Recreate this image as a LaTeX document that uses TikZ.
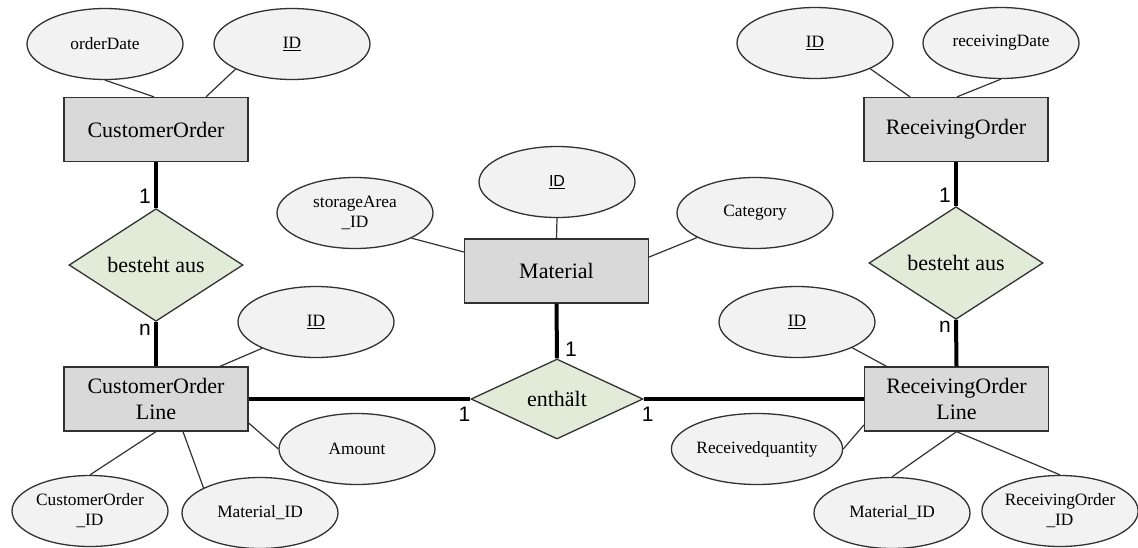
\documentclass[tikz,border=0pt]{standalone}
\usepackage{fontspec}
\setmainfont{Liberation Serif}
\setsansfont{Liberation Sans}
\usetikzlibrary{shapes.geometric,calc}
\definecolor{entfill}{RGB}{217,217,217}
\definecolor{attfill}{RGB}{242,242,242}
\definecolor{relfill}{RGB}{226,235,216}
\definecolor{linegray}{RGB}{50,50,50}

\tikzset{
  entity/.style={draw=linegray, line width=1.3pt, fill=entfill,
    minimum width=184pt, minimum height=64pt, inner sep=0pt,
    align=center, font=\fontsize{22}{26}\selectfont},
  attr/.style={ellipse, draw=linegray, line width=1.3pt, fill=attfill,
    minimum width=156pt, minimum height=71pt, inner sep=0pt,
    align=center, font=\fontsize{17.3}{20}\selectfont},
  rel/.style={diamond, draw=linegray, line width=1.3pt, fill=relfill,
    minimum width=174pt, minimum height=80pt, inner sep=0pt,
    font=\fontsize{22}{26}\selectfont},
  attrlink/.style={draw=linegray, line width=1.2pt},
  rellink/.style={draw=black, line width=4pt},
  card/.style={font=\sffamily\fontsize{21}{21}\selectfont, inner sep=0pt},
}

\begin{document}
\begin{tikzpicture}[x=1pt,y=-1pt]
\useasboundingbox (0,0) rectangle (1138,547);

% entities
\node[entity] (co)  at (156,129.5) {CustomerOrder};
\node[entity] (col) at (156,399)   {CustomerOrder\\Line};
\node[entity] (mat) at (556.5,271) {Material};
\node[entity] (ro)  at (956,129.5) {ReceivingOrder};
\node[entity] (rol) at (956.5,399) {ReceivingOrder\\Line};

% relationships
\node[rel] (d1)  at (156,265) {besteht aus};
\node[rel] (d2)  at (956,263) {besteht aus};
\node[rel, minimum width=172pt] (ent) at (557,399) {enthält};

% attributes
\node[attr] (od)     at (105,44)  {orderDate};
\node[attr] (coid)   at (292,44)  {\underline{ID}};
\node[attr] (roid)   at (815,43)  {\underline{ID}};
\node[attr] (rdate)  at (1001,43) {receivingDate};
\node[attr] (sa)     at (355,213) {storageArea\\\_ID};
\node[attr] (mid)    at (557,182) {\sffamily\fontsize{16}{18}\selectfont\underline{ID}};
\node[attr] (cat)    at (755,213) {Category};
\node[attr] (colid)  at (316,322) {\underline{ID}};
\node[attr] (amt)    at (357,449) {Amount};
\node[attr] (coid2)  at (90,511)  {CustomerOrder\\\_ID};
\node[attr] (matid1) at (260,513) {Material\_ID};
\node[attr] (rolid)  at (797,322) {\underline{ID}};
\node[attr] (rq)     at (757,449) {Receivedquantity};
\node[attr] (matid2) at (892,513) {Material\_ID};
\node[attr] (roid2)  at (1060,511) {ReceivingOrder\\\_ID};

% attribute links
\draw[attrlink] (od.south) -- ([xshift=-2pt]co.north);
\draw[attrlink] (coid.204) -- ([xshift=50pt]co.north);
\draw[attrlink] (roid.335) -- ([xshift=-46pt]ro.north);
\draw[attrlink] (rdate.south) -- ([xshift=1pt]ro.north);
\draw[attrlink] (mid.south) -- (mat.north);
\draw[attrlink] (sa.336) -- ([yshift=19pt]mat.west);
\draw[attrlink] (cat.203) -- ([yshift=14pt]mat.east);
\draw[attrlink] (colid.206) -- ([xshift=64pt]col.north);
\draw[attrlink] (amt.west) -- ([yshift=-24pt]col.east);
\draw[attrlink] (col.south) -- (coid2.north);
\draw[attrlink] ([xshift=27pt]col.south) -- (matid1.156);
\draw[attrlink] (rolid.335) -- ([xshift=-70pt]rol.north);
\draw[attrlink] (rq.east) -- ([yshift=-26pt]rol.west);
\draw[attrlink] (rol.south) -- (matid2.north);
\draw[attrlink] (rol.south) -- (roid2.north);

% relationship links
\draw[rellink] (co.south) -- (d1.north);
\draw[rellink] (d1.south) -- (col.north);
\draw[rellink] (col.east) -- (ent.west);
\draw[rellink] (ent.east) -- (rol.west);
\draw[rellink] (mat.south) -- (ent.north);
\draw[rellink] (ro.south) -- (d2.north);
\draw[rellink] (d2.south) -- (rol.north);

% cardinalities
\node[card] (k1) at ($(d1.north)+(-11,-12)$) {1};
\node[card] (k2) at ($(d1.south)+(-11,8)$)   {n};
\node[card] (k3) at ($(d2.north)+(-11,-11)$) {1};
\node[card] (k4) at ($(d2.south)+(-11,7)$)   {n};
\node[card] (k5) at ($(ent.north)+(14,-9)$)  {1};
\node[card] (k6) at ($(ent.west)+(-6,15)$)   {1};
\node[card] (k7) at ($(ent.east)+(4,15)$)    {1};
\end{tikzpicture}
\end{document}
